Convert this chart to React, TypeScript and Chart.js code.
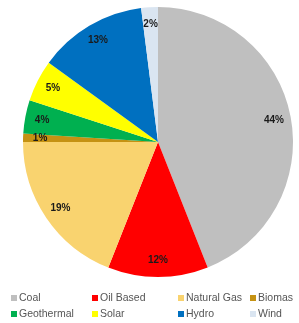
import React, { useEffect, useRef } from "react";
import { Chart, registerables } from "chart.js";

Chart.register(...registerables);

const categories = ["Coal", "Oil Based", "Natural Gas", "Biomas", "Geothermal", "Solar", "Hydro", "Wind"];
const shares = [44, 12, 19, 1, 4, 5, 13, 2];
const colors = ["#BFBFBF", "#FF0000", "#F9D36F", "#C59213", "#00B050", "#FFFF00", "#0070C0", "#DAE5F1"];
// legend grid: category index by [row][col]
const legendRows = [
  [0, 1, 2, 3],
  [4, 5, 6, 7],
];

const FONT = "'Liberation Sans', Arial, sans-serif";

const labelPlugin = {
  id: "sliceLabels",
  afterDatasetsDraw(chart: any) {
    const ctx = chart.ctx;
    const meta = chart.getDatasetMeta(0);
    ctx.save();
    ctx.font = `bold 10px ${FONT}`;
    ctx.fillStyle = "#1a1a1a";
    ctx.textAlign = "center";
    ctx.textBaseline = "middle";
    meta.data.forEach((arc: any, i: number) => {
      const mid = (arc.startAngle + arc.endAngle) / 2;
      const r = arc.outerRadius - 17;
      const x = arc.x + Math.cos(mid) * r;
      const y = arc.y + Math.sin(mid) * r;
      ctx.fillText(`${shares[i]}%`, x, y);
    });
    ctx.restore();
  },
};

const legendPlugin = {
  id: "gridLegend",
  afterDraw(chart: any) {
    const ctx = chart.ctx;
    const colX = [11, 92, 178, 250];
    const rowY = [298, 314];
    ctx.save();
    ctx.font = `10.5px ${FONT}`;
    ctx.textBaseline = "middle";
    ctx.textAlign = "left";
    legendRows.forEach((row, ri) => {
      row.forEach((ci, cj) => {
        const x = colX[cj];
        const y = rowY[ri];
        ctx.fillStyle = colors[ci];
        ctx.fillRect(x, y - 3, 6, 6);
        ctx.fillStyle = "#555555";
        ctx.fillText(categories[ci], x + 8, y);
      });
    });
    ctx.restore();
  },
};

export default function App() {
  const ref = useRef<HTMLCanvasElement>(null);
  useEffect(() => {
    if (!ref.current) return;
    const chart = new Chart(ref.current, {
      type: "pie",
      data: {
        labels: categories,
        datasets: [
          {
            data: shares,
            backgroundColor: colors,
            borderWidth: 0,
          },
        ],
      },
      options: {
        responsive: false,
        animation: false,
        layout: { padding: { left: 23, right: 6, top: 7, bottom: 46 } },
        plugins: {
          legend: { display: false },
          tooltip: { enabled: false },
        },
      },
      plugins: [labelPlugin, legendPlugin],
    });
    return () => chart.destroy();
  }, []);
  return (
    <div style={{ position: "fixed", left: 0, top: 0, width: 299, height: 323, background: "#fff" }}>
      <canvas ref={ref} width={299} height={323} style={{ width: 299, height: 323 }} />
    </div>
  );
}
